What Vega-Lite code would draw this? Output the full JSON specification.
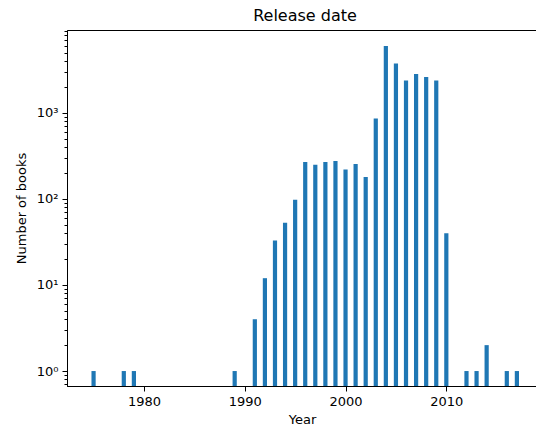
{
  "$schema": "https://vega.github.io/schema/vega-lite/v6.json",
  "autosize": "none",
  "padding": {"left": 67, "top": 30, "right": 0, "bottom": 40},
  "width": 470,
  "height": 356,
  "title": {"text": "Release date", "font": "DejaVu Sans", "fontSize": 16, "fontWeight": "normal", "color": "#000", "offset": 6, "anchor": "middle", "dx": 3},
  "data": {"values": [
    {"year": 1975, "books": 1},
    {"year": 1978, "books": 1},
    {"year": 1979, "books": 1},
    {"year": 1989, "books": 1},
    {"year": 1991, "books": 4},
    {"year": 1992, "books": 12},
    {"year": 1993, "books": 33},
    {"year": 1994, "books": 53},
    {"year": 1995, "books": 98},
    {"year": 1996, "books": 268},
    {"year": 1997, "books": 250},
    {"year": 1998, "books": 268},
    {"year": 1999, "books": 276},
    {"year": 2000, "books": 220},
    {"year": 2001, "books": 255},
    {"year": 2002, "books": 180},
    {"year": 2003, "books": 860},
    {"year": 2004, "books": 6000},
    {"year": 2005, "books": 3750},
    {"year": 2006, "books": 2380},
    {"year": 2007, "books": 2840},
    {"year": 2008, "books": 2620},
    {"year": 2009, "books": 2380},
    {"year": 2010, "books": 40},
    {"year": 2012, "books": 1},
    {"year": 2013, "books": 1},
    {"year": 2014, "books": 2},
    {"year": 2016, "books": 1},
    {"year": 2017, "books": 1}
  ]},
  "layer": [
    {
      "mark": {"type": "bar", "color": "#1f77b4", "width": 4.2},
      "encoding": {
        "x": {
          "field": "year", "type": "quantitative",
          "scale": {"domain": [1972.86, 2018.5], "nice": false, "zero": false},
          "axis": {"title": "Year", "values": [1980, 1990, 2000, 2010], "format": "d", "grid": false,
                   "tickSize": 5, "labelPadding": 4, "titlePadding": 5}
        },
        "y": {
          "field": "books", "type": "quantitative",
          "scale": {"type": "log", "domain": [0.67, 9200], "nice": false},
          "axis": {"title": "Number of books", "values": [1, 10, 100, 1000], "grid": false,
                   "tickSize": 5, "labelPadding": 4, "titlePadding": 8,
                   "labelExpr": "datum.value == 1 ? '10⁰' : datum.value == 10 ? '10¹' : datum.value == 100 ? '10²' : '10³'"}
        },
        "y2": {"datum": 0.67}
      }
    },
    {
      "mark": {"type": "tick", "opacity": 0},
      "encoding": {
        "x": {"field": "year", "type": "quantitative"},
        "y": {
          "field": "books", "type": "quantitative",
          "axis": {"orient": "left", "title": null, "labels": false, "grid": false, "domain": false, "tickSize": 3,
                   "values": [0.7, 0.8, 0.9, 2, 3, 4, 5, 6, 7, 8, 9, 20, 30, 40, 50, 60, 70, 80, 90, 200, 300, 400, 500, 600, 700, 800, 900, 2000, 3000, 4000, 5000, 6000, 7000, 8000, 9000]}
        }
      }
    }
  ],
  "resolve": {"axis": {"y": "independent"}},
  "config": {
    "view": {"stroke": "#000", "strokeWidth": 1},
    "axis": {
      "domainColor": "#000", "tickColor": "#000", "labelColor": "#000", "titleColor": "#000",
      "labelFont": "DejaVu Sans", "titleFont": "DejaVu Sans", "labelFontSize": 13, "titleFontSize": 13,
      "titleFontWeight": "normal", "domainWidth": 1, "tickWidth": 1
    }
  }
}
